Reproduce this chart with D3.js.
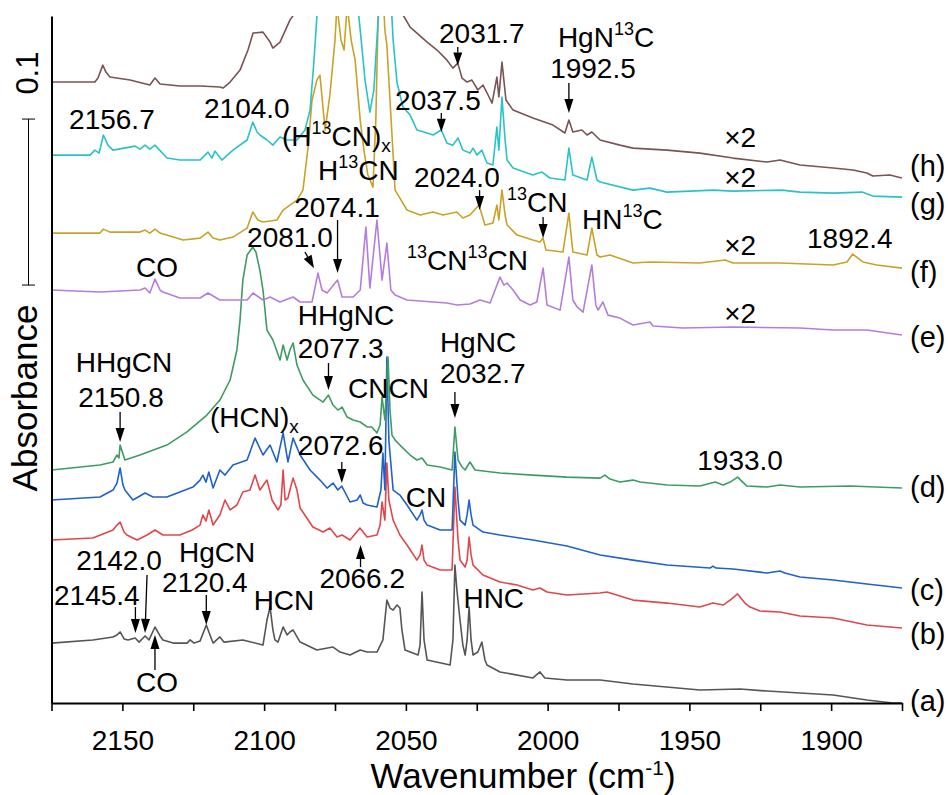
<!DOCTYPE html>
<html><head><meta charset="utf-8">
<script src="https://cdn.jsdelivr.net/npm/d3@7"></script>
<style>body{margin:0;background:#fff}</style>
</head><body>
<svg id="chart" width="948" height="795"></svg>
<script>
// ---- data: [wavenumber (cm-1), absorbance] ----
const traceA = [[2175,0.0361],[2160.4,0.0380],[2153.3,0.0398],[2151.9,0.0410],[2150.8,0.0428],[2149.4,0.0386],[2148.0,0.0380],[2145.5,0.0392],[2144.1,0.0367],[2142.0,0.0404],[2140.6,0.0380],[2138.5,0.0458],[2136.7,0.0404],[2135.7,0.0380],[2132.1,0.0361],[2127.2,0.0361],[2126.1,0.0380],[2124.7,0.0361],[2122.6,0.0373],[2120.4,0.0470],[2118.7,0.0392],[2118.0,0.0361],[2115.6,0.0398],[2114.2,0.0367],[2107.5,0.0380],[2100.4,0.0349],[2099.0,0.0500],[2097.9,0.0578],[2096.9,0.0440],[2096.2,0.0380],[2095.1,0.0367],[2093.3,0.0458],[2091.9,0.0410],[2090.9,0.0428],[2089.8,0.0440],[2088.4,0.0398],[2087.3,0.0367],[2081.4,0.0319],[2075.7,0.0337],[2073.2,0.0307],[2069.7,0.0289],[2066.1,0.0319],[2063.7,0.0307],[2060.2,0.0307],[2058.1,0.0380],[2056.7,0.0620],[2055.6,0.0572],[2054.5,0.0560],[2053.1,0.0590],[2052.1,0.0572],[2051.4,0.0440],[2050.3,0.0319],[2045.7,0.0289],[2045.0,0.0349],[2044.3,0.0669],[2043.6,0.0380],[2042.5,0.0259],[2034.4,0.0229],[2033.4,0.0380],[2032.7,0.0831],[2032.0,0.0681],[2030.9,0.0500],[2029.9,0.0349],[2029.1,0.0289],[2028.4,0.0380],[2027.7,0.0578],[2027.0,0.0380],[2026.3,0.0289],[2024.6,0.0307],[2023.2,0.0367],[2022.1,0.0259],[2021.4,0.0229],[2016.8,0.0187],[2005.2,0.0151],[2002.7,0.0187],[2001.0,0.0151],[1993.2,0.0139],[1981.5,0.0139],[1969.9,0.0114],[1946.3,0.0078],[1932.1,0.0084],[1922.6,0.0072],[1899.3,0.0048],[1887.4,0.0018],[1878.3,0.0],[1875,0.0]];

const traceB = [[2175,0.0982],[2160.4,0.0994],[2153.3,0.1042],[2151.9,0.1072],[2150.8,0.1090],[2149.4,0.1030],[2148.4,0.1012],[2144.8,0.0982],[2141.3,0.1012],[2138.5,0.1042],[2135.7,0.1012],[2129.7,0.1012],[2125.4,0.1042],[2122.6,0.1072],[2121.6,0.1133],[2120.5,0.1096],[2119.5,0.1163],[2118.0,0.1072],[2115.6,0.1133],[2113.8,0.1223],[2112.0,0.1163],[2109.6,0.1193],[2107.5,0.1271],[2105.0,0.1283],[2103.2,0.1373],[2101.5,0.1283],[2099.0,0.1343],[2097.2,0.1223],[2095.1,0.1163],[2094.1,0.1193],[2093.3,0.1404],[2092.6,0.1223],[2091.6,0.1235],[2090.9,0.1283],[2089.8,0.1355],[2088.4,0.1283],[2087.3,0.1175],[2082.8,0.1060],[2079.2,0.1030],[2076.8,0.1054],[2074.3,0.1000],[2072.5,0.1012],[2069.7,0.0982],[2066.2,0.1054],[2063.7,0.1000],[2060.2,0.1012],[2059.1,0.1072],[2058.4,0.1211],[2057.7,0.1133],[2057.4,0.1102],[2056.7,0.1446],[2056.0,0.1223],[2054.5,0.1102],[2052.1,0.1012],[2049.6,0.0952],[2046.1,0.0861],[2045.0,0.0892],[2044.3,0.0952],[2043.6,0.0861],[2042.5,0.0831],[2037.9,0.0801],[2033.7,0.0801],[2032.7,0.1301],[2031.6,0.0982],[2030.9,0.0861],[2029.1,0.0819],[2028.4,0.0861],[2027.7,0.1000],[2027.0,0.0892],[2026.3,0.0831],[2022.8,0.0771],[2016.8,0.0729],[2010.8,0.0711],[2005.2,0.0681],[2002.7,0.0693],[2000.2,0.0669],[1993.2,0.0651],[1981.5,0.0663],[1979.1,0.0669],[1969.9,0.0620],[1957.9,0.0602],[1946.3,0.0578],[1941.7,0.0602],[1938.1,0.0590],[1935.6,0.0620],[1933.0,0.0657],[1930.4,0.0602],[1928.6,0.0578],[1925.1,0.0554],[1918.0,0.0548],[1911.0,0.0524],[1899.3,0.0512],[1887.4,0.0470],[1875,0.0452]];

const traceC = [[2175,0.1223],[2157.9,0.1241],[2153.3,0.1283],[2151.9,0.1325],[2150.8,0.1416],[2149.8,0.1313],[2149.1,0.1283],[2146.3,0.1223],[2143.8,0.1247],[2142.0,0.1265],[2139.2,0.1241],[2134.3,0.1241],[2125.1,0.1301],[2122.6,0.1343],[2121.6,0.1373],[2120.5,0.1331],[2119.5,0.1392],[2118.0,0.1295],[2115.6,0.1404],[2113.8,0.1373],[2111.0,0.1434],[2106.0,0.1464],[2103.2,0.1596],[2100.4,0.1494],[2097.9,0.1554],[2095.5,0.1452],[2093.3,0.1627],[2091.6,0.1452],[2089.8,0.1596],[2087.3,0.1494],[2083.8,0.1404],[2080.3,0.1343],[2077.8,0.1295],[2075.7,0.1325],[2074.0,0.1283],[2072.6,0.1307],[2069.7,0.1211],[2067.2,0.1223],[2066.1,0.1253],[2065.1,0.1205],[2063.7,0.1193],[2060.2,0.1181],[2058.8,0.1283],[2058.1,0.1506],[2057.4,0.1283],[2056.7,0.2084],[2056.0,0.1584],[2054.5,0.1283],[2052.1,0.1253],[2049.6,0.1193],[2046.1,0.1102],[2045.0,0.1133],[2044.3,0.1163],[2043.6,0.1102],[2042.5,0.1072],[2037.9,0.1042],[2033.7,0.1042],[2032.7,0.1512],[2031.6,0.1223],[2030.9,0.1102],[2029.1,0.1072],[2028.4,0.1133],[2027.7,0.1223],[2027.0,0.1133],[2026.3,0.1072],[2022.8,0.1030],[2016.8,0.1012],[2005.2,0.0982],[1993.2,0.0946],[1981.5,0.0892],[1969.9,0.0861],[1957.9,0.0831],[1942.7,0.0813],[1941.7,0.0825],[1940.6,0.0813],[1934.6,0.0807],[1922.6,0.0783],[1918.0,0.0795],[1916.3,0.0783],[1911.0,0.0759],[1899.3,0.0741],[1887.4,0.0717],[1875,0.0693]];

const traceD = [[2175,0.1404],[2157.9,0.1434],[2153.3,0.1452],[2151.9,0.1494],[2151.2,0.1476],[2150.8,0.1554],[2149.1,0.1464],[2143.8,0.1494],[2134.3,0.1554],[2127.2,0.1633],[2120.2,0.1735],[2115.6,0.1825],[2112.0,0.1946],[2109.6,0.2127],[2108.5,0.2307],[2107.5,0.2548],[2106.0,0.2699],[2104.0,0.2747],[2102.9,0.2717],[2101.5,0.2608],[2100.4,0.2488],[2099.0,0.2247],[2096.9,0.2187],[2094.4,0.2066],[2093.3,0.2157],[2091.9,0.2066],[2090.9,0.2127],[2089.8,0.2169],[2088.4,0.2036],[2086.3,0.1946],[2082.8,0.1855],[2079.2,0.1813],[2077.3,0.1855],[2075.7,0.1795],[2074.0,0.1765],[2072.5,0.1783],[2070.7,0.1723],[2068.6,0.1705],[2066.1,0.1693],[2063.7,0.1663],[2062.0,0.1663],[2060.2,0.1627],[2059.1,0.1675],[2058.4,0.1843],[2057.4,0.1705],[2056.3,0.2084],[2055.6,0.1765],[2054.9,0.1614],[2053.8,0.1584],[2052.1,0.1554],[2048.5,0.1494],[2046.1,0.1464],[2044.3,0.1476],[2042.5,0.1434],[2037.9,0.1422],[2033.7,0.1404],[2032.7,0.1663],[2031.6,0.1464],[2030.2,0.1422],[2029.1,0.1404],[2027.4,0.1452],[2025.6,0.1404],[2016.8,0.1386],[2005.2,0.1373],[1993.2,0.1361],[1981.5,0.1355],[1979.8,0.1373],[1978.0,0.1349],[1974.5,0.1331],[1969.9,0.1343],[1967.4,0.1331],[1957.9,0.1313],[1946.3,0.1307],[1940.9,0.1331],[1938.1,0.1313],[1935.6,0.1331],[1933.0,0.1361],[1929.7,0.1307],[1922.6,0.1301],[1918.0,0.1313],[1911.0,0.1301],[1893.4,0.1307],[1875,0.1295]];

const traceE = [[2175,0.2488],[2157.9,0.2476],[2143.8,0.2488],[2142.0,0.2500],[2140.3,0.2470],[2138.5,0.2554],[2136.7,0.2488],[2135.7,0.2476],[2129.7,0.2440],[2122.6,0.2440],[2119.8,0.2470],[2115.6,0.2428],[2106.0,0.2428],[2103.9,0.2470],[2100.4,0.2428],[2097.9,0.2446],[2094.4,0.2416],[2089.8,0.2446],[2087.3,0.2416],[2083.1,0.2416],[2081.0,0.2590],[2079.6,0.2488],[2077.8,0.2470],[2074.1,0.2548],[2072.5,0.2446],[2068.6,0.2446],[2066.1,0.2488],[2064.1,0.2867],[2062.7,0.2500],[2060.2,0.2910],[2058.4,0.2548],[2056.7,0.2771],[2055.3,0.2488],[2053.8,0.2458],[2049.6,0.2428],[2040.4,0.2416],[2035.5,0.2410],[2032.0,0.2398],[2027.4,0.2404],[2023.9,0.2428],[2020.3,0.2410],[2016.8,0.2566],[2015.4,0.2518],[2014.3,0.2530],[2012.2,0.2488],[2009.7,0.2428],[2006.2,0.2398],[2003.8,0.2416],[2001.6,0.2620],[2000.2,0.2398],[1995.6,0.2367],[1992.5,0.2687],[1991.1,0.2428],[1989.6,0.2386],[1987.5,0.2355],[1984.4,0.2639],[1983.0,0.2398],[1982.2,0.2367],[1980.5,0.2416],[1978.7,0.2337],[1974.5,0.2319],[1969.9,0.2277],[1963.9,0.2295],[1962.8,0.2271],[1952.3,0.2259],[1934.6,0.2265],[1911.0,0.2259],[1899.3,0.2247],[1887.4,0.2247],[1875,0.2217]];

const traceF = [[2175,0.2831],[2157.9,0.2831],[2156.7,0.2855],[2154.4,0.2837],[2143.8,0.2837],[2142.0,0.2849],[2140.3,0.2831],[2138.5,0.2855],[2136.7,0.2831],[2128.6,0.2789],[2122.6,0.2801],[2119.8,0.2837],[2118.0,0.2801],[2115.6,0.2789],[2111.0,0.2807],[2106.0,0.2861],[2104.0,0.2958],[2102.2,0.2910],[2100.4,0.2898],[2095.5,0.2910],[2093.3,0.2970],[2090.9,0.3000],[2088.4,0.3030],[2086.3,0.3090],[2084.5,0.3349],[2083.1,0.3633],[2081.4,0.3753],[2080.3,0.3783],[2078.5,0.3452],[2076.8,0.3663],[2075.0,0.3994],[2074.3,0.4205],[2072.9,0.3994],[2071.8,0.3934],[2070.7,0.4205],[2069.3,0.3994],[2067.9,0.3873],[2066.1,0.3512],[2064.8,0.3331],[2063.4,0.3181],[2061.6,0.3108],[2060.6,0.3512],[2059.5,0.4355],[2058.1,0.4295],[2057.4,0.4054],[2056.7,0.3964],[2055.6,0.3633],[2053.8,0.3090],[2052.1,0.3042],[2049.6,0.2970],[2045.0,0.2940],[2040.4,0.2958],[2036.9,0.2940],[2032.0,0.2958],[2029.9,0.2922],[2027.4,0.2940],[2024.2,0.3000],[2022.1,0.2880],[2019.3,0.2892],[2017.9,0.3000],[2017.2,0.2910],[2016.1,0.3090],[2015.0,0.2940],[2014.3,0.2880],[2010.8,0.2819],[2005.2,0.2789],[2002.7,0.2777],[2001.6,0.2801],[2000.6,0.2729],[1994.6,0.2717],[1992.5,0.2952],[1991.1,0.2717],[1986.1,0.2699],[1984.4,0.2861],[1982.6,0.2699],[1981.5,0.2687],[1978.0,0.2699],[1969.9,0.2651],[1963.9,0.2657],[1946.3,0.2651],[1937.4,0.2669],[1934.6,0.2651],[1918.0,0.2651],[1899.3,0.2639],[1894.4,0.2657],[1892.4,0.2705],[1888.8,0.2657],[1883.9,0.2639],[1875,0.2620]];

const traceG = [[2175,0.3301],[2161.4,0.3301],[2159.7,0.3331],[2158.2,0.3313],[2156.7,0.3422],[2155.1,0.3361],[2153.3,0.3331],[2145.5,0.3355],[2143.8,0.3337],[2142.0,0.3361],[2140.3,0.3337],[2138.5,0.3361],[2134.3,0.3283],[2129.7,0.3271],[2122.6,0.3271],[2119.8,0.3319],[2118.4,0.3283],[2117.3,0.3325],[2114.9,0.3271],[2111.0,0.3331],[2106.0,0.3392],[2104.0,0.3500],[2102.5,0.3440],[2101.5,0.3422],[2099.0,0.3392],[2096.9,0.3361],[2094.4,0.3410],[2091.9,0.3392],[2088.4,0.3392],[2085.6,0.3452],[2083.8,0.3572],[2082.4,0.3873],[2081.0,0.4235],[2078.5,0.4416],[2073.2,0.4476],[2067.9,0.4355],[2066.1,0.4054],[2064.4,0.3753],[2062.7,0.3560],[2061.3,0.3693],[2059.8,0.4114],[2058.4,0.4416],[2055.6,0.4355],[2054.5,0.3994],[2053.1,0.3735],[2051.0,0.3590],[2048.5,0.3542],[2046.1,0.3452],[2042.5,0.3434],[2040.4,0.3422],[2037.5,0.3452],[2035.5,0.3373],[2033.4,0.3361],[2031.6,0.3404],[2029.9,0.3331],[2027.4,0.3313],[2026.3,0.3343],[2024.9,0.3301],[2023.2,0.3331],[2021.4,0.3253],[2019.3,0.3241],[2017.9,0.3470],[2017.2,0.3331],[2016.1,0.3651],[2015.0,0.3392],[2014.3,0.3271],[2012.2,0.3223],[2005.2,0.3181],[2002.0,0.3199],[1999.2,0.3163],[1993.9,0.3151],[1992.5,0.3343],[1991.1,0.3181],[1986.1,0.3151],[1984.4,0.3289],[1982.6,0.3151],[1981.5,0.3139],[1969.9,0.3090],[1963.9,0.3102],[1957.9,0.3078],[1941.7,0.3090],[1934.6,0.3084],[1917.3,0.3090],[1911.0,0.3078],[1899.3,0.3072],[1889.1,0.3078],[1885.3,0.3054],[1875,0.3048]];

const traceH = [[2175,0.3741],[2159.7,0.3741],[2158.6,0.3765],[2156.9,0.3843],[2155.8,0.3801],[2154.4,0.3771],[2147.3,0.3753],[2140.3,0.3723],[2138.5,0.3765],[2136.7,0.3729],[2129.7,0.3717],[2122.6,0.3717],[2115.6,0.3711],[2114.5,0.3705],[2112.0,0.3741],[2108.5,0.3813],[2105.7,0.3934],[2103.9,0.4036],[2100.4,0.4042],[2097.9,0.3982],[2096.9,0.3946],[2094.4,0.3982],[2090.9,0.4114],[2088.4,0.4175],[2085.6,0.4355],[2076.8,0.4476],[2066.1,0.4476],[2055.6,0.4416],[2051.0,0.4145],[2048.5,0.4072],[2046.1,0.4036],[2042.5,0.3982],[2039.0,0.3934],[2035.5,0.3873],[2033.4,0.3825],[2031.7,0.3855],[2030.2,0.3765],[2028.4,0.3741],[2026.7,0.3753],[2024.6,0.3693],[2022.8,0.3723],[2021.0,0.3663],[2019.6,0.3614],[2017.9,0.3771],[2017.2,0.3651],[2016.1,0.3861],[2014.7,0.3633],[2012.2,0.3572],[2005.2,0.3524],[1998.1,0.3482],[1993.9,0.3434],[1992.5,0.3512],[1991.1,0.3440],[1987.9,0.3452],[1986.1,0.3422],[1984.4,0.3440],[1981.5,0.3392],[1974.5,0.3361],[1969.9,0.3343],[1957.9,0.3331],[1946.3,0.3313],[1934.6,0.3283],[1922.6,0.3259],[1918.0,0.3271],[1911.0,0.3241],[1899.3,0.3223],[1892.3,0.3211],[1887.4,0.3193],[1885.3,0.3175],[1879.3,0.3181],[1875,0.3163]];

const traceIds = ["(a)","(b)","(c)","(d)","(e)","(f)","(g)","(h)"];
const traceColors = ["#555555","#e0474c","#1f62c9","#3d9c64","#b57ddb","#c9a227","#28c3c9","#7a5353"];
const traceLabelLevels = [-0.0048,0.0355,0.0620,0.1241,0.2145,0.2536,0.2946,0.3175];

const xTickMajor = [2150,2100,2050,2000,1950,1900];
const xTickMinor = [2175,2125,2075,2025,1975,1925,1875];
const xDomain = [2175,1875];
const yDomain = [0,0.4139];
const scaleBar = [0.2518,0.3518];

// annotations: text (^{} superscript, _{} subscript), wavenumber, absorbance (baseline), anchor
const annText = ["2156.7","2104.0","(H^{13}CN)_{x}","2031.7","HgN^{13}C","1992.5","2037.5","2024.0","H^{13}CN","2074.1","2081.0","^{13}CN^{13}CN","^{13}CN","HN^{13}C","×2","×2","×2","×2","1892.4","1933.0","CO","HHgCN","2150.8","(HCN)_{x}","HHgNC","2077.3","CNCN","HgNC","2032.7","2072.6","2142.0","2145.4","HgCN","2120.4","HCN","CO","2066.2","CN","HNC"];
const annWave = [2153.7,2106.1,2093.7,2023.2,1979.4,1984.0,2038.7,2032.0,2081.0,2074.3,2090.9,2049.6,2014.3,1987.9,1932.1,1932.1,1932.1,1932.1,1893.4,1932.1,2137.8,2149.4,2150.5,2119.1,2088.1,2088.1,2070.4,2038.0,2038.0,2088.1,2151.2,2159.0,2116.6,2120.9,2093.0,2137.8,2065.4,2042.9,2019.0];
const annAbs = [0.3458,0.3524,0.3355,0.3976,0.3952,0.3765,0.3572,0.3108,0.3151,0.2928,0.2747,0.2608,0.2958,0.2855,0.3349,0.3108,0.2699,0.2289,0.2741,0.1404,0.2566,0.1994,0.1783,0.1663,0.2277,0.2078,0.1837,0.2114,0.1928,0.1494,0.0801,0.0590,0.0849,0.0669,0.0560,0.0066,0.0693,0.1181,0.0572];
const annAnchor = ["middle","middle","start","middle","middle","middle","middle","middle","start","middle","middle","start","start","start","middle","middle","middle","middle","middle","middle","middle","middle","middle","start","start","start","start","start","start","start","middle","middle","middle","middle","middle","middle","middle","middle","middle"];

// arrows: [wave from, abs from, wave to, abs to] (head at "to")
const arrows = [
  [2031.7,0.3952,2031.7,0.3843],
  [1992.5,0.3735,1992.5,0.3554],
  [2037.5,0.3554,2037.5,0.3440],
  [2024.0,0.3090,2024.0,0.2970],
  [2001.6,0.2928,2001.6,0.2801],
  [2074.1,0.2910,2074.1,0.2590],
  [2085.6,0.2717,2082.4,0.2620],
  [2150.8,0.1753,2150.8,0.1572],
  [2077.3,0.2048,2077.3,0.1886],
  [2032.7,0.1873,2032.7,0.1717],
  [2072.6,0.1452,2072.6,0.1325],
  [2120.4,0.0651,2120.4,0.0470],
  [2145.4,0.0578,2145.4,0.0422],
  [2141.3,0.0771,2142.0,0.0422],
  [2138.5,0.0199,2138.5,0.0410],
  [2066.0,0.0819,2066.0,0.0952]
];

// ---- drawing ----
const svg = d3.select("#chart");
const W = 948, H = 795;
const plot = {left:51.5, right:902, top:16, bottom:703};
const x = d3.scaleLinear().domain(xDomain).range([plot.left, plot.right]);
const y = d3.scaleLinear().domain(yDomain).range([plot.bottom, plot.top]);
const FONT = "'Liberation Sans', Arial, Helvetica, sans-serif";

svg.append("rect").attr("width",W).attr("height",H).attr("fill","#fff");
svg.append("defs").append("clipPath").attr("id","clip")
  .append("rect").attr("x",plot.left).attr("y",plot.top)
  .attr("width",plot.right-plot.left).attr("height",plot.bottom-plot.top);

const line = d3.line().x(d=>x(d[0])).y(d=>y(d[1]));
const traces = [traceA,traceB,traceC,traceD,traceE,traceF,traceG,traceH];
const g = svg.append("g").attr("clip-path","url(#clip)");
traces.forEach((t,i)=>{
  g.append("path").datum(t).attr("d",line).attr("fill","none")
    .attr("stroke",traceColors[i]).attr("stroke-width",1.6).attr("stroke-linejoin","round");
});

// x axis
const xAxis = d3.axisBottom(x).tickValues(xTickMajor).tickSize(8).tickSizeOuter(0).tickFormat(d3.format("d"));
const ax = svg.append("g").attr("transform",`translate(0,${plot.bottom})`).call(xAxis);
ax.select(".domain").attr("stroke","#000").attr("stroke-width",2);
ax.selectAll(".tick line").attr("stroke","#000").attr("stroke-width",1.6);
ax.selectAll(".tick text").attr("font-family",FONT).attr("font-size",28).attr("fill","#000").attr("dy",0).attr("y",47);
const axMinor = d3.axisBottom(x).tickValues(xTickMinor).tickSize(8).tickFormat("");
const axm = svg.append("g").attr("transform",`translate(0,${plot.bottom})`).call(axMinor);
axm.select(".domain").remove();
axm.selectAll(".tick line").attr("stroke","#000").attr("stroke-width",1.6);

// y axis line (no ticks)
const yAxis = d3.axisLeft(y).tickValues([]).tickSizeOuter(0);
const ay = svg.append("g").attr("transform",`translate(${plot.left},0)`).call(yAxis);
ay.select(".domain").attr("stroke","#000").attr("stroke-width",2);

// axis titles
const xt = svg.append("text").attr("x",523).attr("y",788).attr("text-anchor","middle")
  .attr("font-family",FONT).attr("font-size",35).attr("fill","#000");
xt.append("tspan").text("Wavenumber (cm");
xt.append("tspan").attr("font-size",21).attr("dy",-13).text("-1");
xt.append("tspan").attr("dy",13).text(")");
svg.append("text").attr("transform","translate(37,398) rotate(-90)").attr("text-anchor","middle")
  .attr("font-family",FONT).attr("font-size",35).attr("fill","#000").text("Absorbance");

// scale bar
const sbx = 28.5;
svg.append("line").attr("x1",sbx).attr("x2",sbx).attr("y1",y(scaleBar[0])).attr("y2",y(scaleBar[1])).attr("stroke","#000").attr("stroke-width",1);
scaleBar.forEach(v=>svg.append("line").attr("x1",22).attr("x2",35).attr("y1",y(v)).attr("y2",y(v)).attr("stroke","#000").attr("stroke-width",1));
svg.append("text").attr("transform",`translate(38,${y(scaleBar[1])-46}) rotate(-90)`).attr("text-anchor","middle")
  .attr("font-family",FONT).attr("font-size",31).attr("fill","#000").text("0.1");

// rich text helper
function richText(sel, str, size){
  const re = /(\^\{[^}]*\}|_\{[^}]*\})/g;
  const parts = str.split(re).filter(s=>s.length);
  let shift = 0;
  parts.forEach(p=>{
    let target = 0, txt = p, fs = size;
    if(p.startsWith("^{")){ target = -Math.round(size*0.42); txt = p.slice(2,-1); fs = Math.round(size*0.66); }
    else if(p.startsWith("_{")){ target = Math.round(size*0.2); txt = p.slice(2,-1); fs = Math.round(size*0.68); }
    sel.append("tspan").attr("dy",target-shift).attr("font-size",fs).text(txt);
    shift = target;
  });
}

annText.forEach((t,i)=>{
  const el = svg.append("text").attr("x",x(annWave[i])).attr("y",y(annAbs[i]))
    .attr("text-anchor",annAnchor[i]).attr("font-family",FONT).attr("font-size",28).attr("fill","#000");
  richText(el,t,28);
});

// trace labels
traceIds.forEach((t,i)=>{
  svg.append("text").attr("x",plot.right+8).attr("y",y(traceLabelLevels[i]))
    .attr("font-family",FONT).attr("font-size",29).attr("fill","#000").text(t);
});

// arrows
arrows.forEach(a=>{
  const x1=x(a[0]), y1=y(a[1]), x2=x(a[2]), y2=y(a[3]);
  const dx=x2-x1, dy=y2-y1, L=Math.hypot(dx,dy), ux=dx/L, uy=dy/L;
  const hl=Math.min(14, L*0.7), hw=4.5;
  const bx=x2-ux*hl, by=y2-uy*hl;
  svg.append("line").attr("x1",x1).attr("y1",y1).attr("x2",bx).attr("y2",by).attr("stroke","#000").attr("stroke-width",1.3);
  svg.append("path").attr("d",`M${x2},${y2}L${bx-uy*hw},${by+ux*hw}L${bx+uy*hw},${by-ux*hw}Z`).attr("fill","#000");
});
</script>
</body></html>
